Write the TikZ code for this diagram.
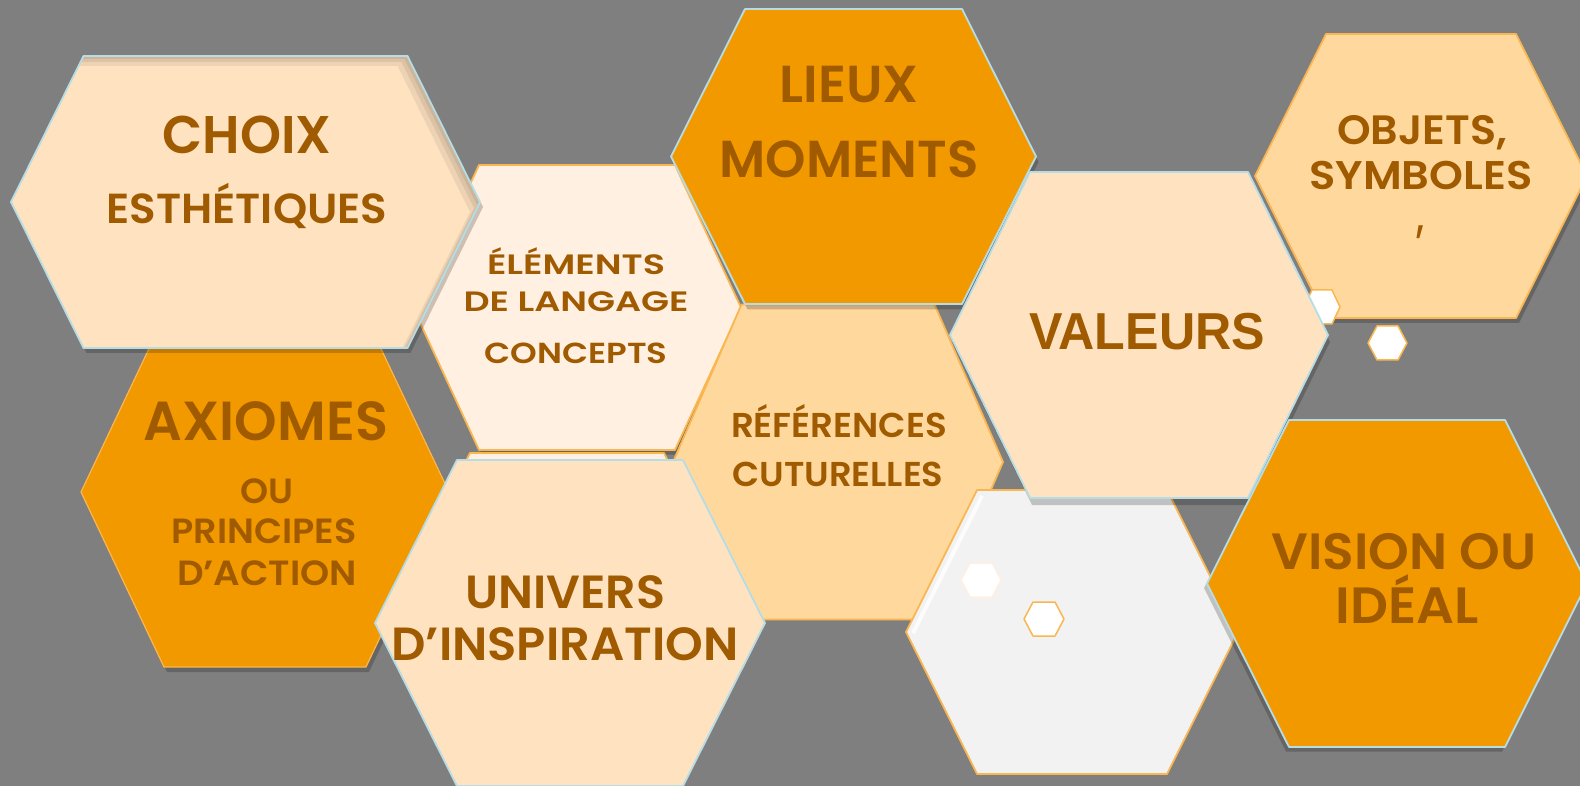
\documentclass[tikz,border=0pt]{standalone}
\usepackage{fontspec}
\usepackage{graphicx}
\newfontfamily\hexfont{Poppins SemiBold}
\newfontfamily\arialf{Liberation Sans}
\definecolor{bgray}{RGB}{127,127,127}
\definecolor{peach}{RGB}{255,227,193}
\definecolor{cream}{RGB}{255,240,225}
\definecolor{deeporange}{RGB}{243,153,0}
\definecolor{lightorange}{RGB}{255,216,158}
\definecolor{paleg}{RGB}{242,242,242}
\definecolor{edgeblue}{RGB}{182,221,230}
\definecolor{edgeorange}{RGB}{250,182,80}
\definecolor{txtbrown}{RGB}{160,90,0}
\tikzset{
  hexblue/.style={draw=edgeblue, line width=1.8pt, line join=round},
  hexorange/.style={draw=edgeorange, line width=1.8pt, line join=round},
  hexshadow/.style={fill=black, fill opacity=0.2},
  innershade/.style={fill=black, fill opacity=0.07, even odd rule},
  txt/.style={text=txtbrown, inner sep=0pt, anchor=base, font=\hexfont},
}
% hexagon path pieces: cx, cy, outer half-width, inner half-width, half-height
\newcommand\hexp[5]{({#1-#3},{#2}) -- ({#1-#4},{#2-#5}) -- ({#1+#4},{#2-#5})
    -- ({#1+#3},{#2}) -- ({#1+#4},{#2+#5}) -- ({#1-#4},{#2+#5}) -- cycle}
% hexagon: cx, cy, outer half-width, inner half-width, half-height, style
\newcommand\hexa[6]{\path[#6] \hexp{#1}{#2}{#3}{#4}{#5};}
% text line: name, x, baseline y, width, size, text
\newcommand\tline[6]{%
  \node[txt] (#1) at (#2,#3) {\resizebox{#4pt}{\height}{\fontsize{#5pt}{#5pt}\selectfont #6}};}
\begin{document}
\begin{tikzpicture}[x=1pt,y=-1pt]
\useasboundingbox (0,0) rectangle (1580,786);
\fill[bgray] (0,0) rectangle (1580,786);
\clip (0,0) rectangle (1580,786);
% tiny hexagon behind LIEUX
\hexa{690}{193}{9}{5}{10}{fill=white, hexorange, line width=1pt}
% AXIOMES
\hexa{268}{497}{184}{101}{175}{hexshadow}
\hexa{265}{492}{184}{101}{175}{fill=deeporange, hexorange, line width=1.2pt}
% ELEMENTS
\hexa{580}{312}{164}{98}{142.5}{hexshadow}
\hexa{577}{307.5}{164}{98}{142.5}{fill=cream, hexorange}
% CHOIX
\hexa{248.5}{207}{234.5}{162}{146}{hexshadow}
\hexa{245.5}{202}{234.5}{162}{146}{fill=peach}
\begin{scope}
  \hexa{245.5}{202}{234.5}{162}{146}{clip}
  \path[innershade] \hexp{245.5}{202}{234.5}{162}{146} \hexp{242.5}{205}{234.5}{162}{146};
  \path[innershade] \hexp{245.5}{202}{234.5}{162}{146} \hexp{239.5}{208}{234.5}{162}{146};
  \path[innershade] \hexp{245.5}{202}{234.5}{162}{146} \hexp{235.5}{212}{234.5}{162}{146};
\end{scope}
\hexa{245.5}{202}{234.5}{162}{146}{hexblue}
% OBJETS
\hexa{1424}{181}{166}{95}{142}{hexshadow}
\hexa{1421}{176}{166}{95}{142}{fill=lightorange, hexorange}
% small hexagons near OBJETS
\hexa{1322}{307}{18}{10}{17}{fill=white, hexorange, line width=1.5pt}
\hexa{1387.5}{343}{19.5}{10.5}{17}{fill=white, hexorange, line width=1.5pt}
% REFERENCES
\hexa{838}{462}{165}{96.5}{157.5}{fill=lightorange, hexorange}
% hexagon behind UNIVERS
\hexa{567}{613}{180}{97}{160}{fill=cream, hexorange}
% UNIVERS
\hexa{570}{623}{195}{113}{163}{fill=peach, hexblue}
% LIEUX
\hexa{856}{162}{182.5}{108.5}{147.5}{hexshadow}
\hexa{853.5}{156.5}{182.5}{108.5}{147.5}{fill=deeporange, hexblue}
% blank pale hexagon
\hexa{1072}{632}{166}{95}{142}{fill=paleg, hexorange}
\draw[white, line width=4pt, opacity=0.8] (982,496) -- (913,633);
\hexa{981}{580}{20}{11}{17}{fill=white, draw=cream, line width=1.5pt}
\hexa{1044}{619}{20}{11}{17}{fill=white, hexorange, line width=1.5pt}
% VALEURS
\hexa{1141}{342}{189}{109}{163}{hexshadow}
\hexa{1139}{335}{189}{109}{163}{fill=peach, hexblue}
% VISION
\hexa{1394}{588}{190}{108}{163.5}{hexshadow}
\hexa{1397}{583.5}{190}{108}{163.5}{fill=deeporange, hexblue}
% texts
\tline{choix}{247}{154}{169}{53}{CHOIX}
\tline{esth}{247}{224}{281}{42}{ESTHÉTIQUES}
\tline{elem}{576}{275}{178}{28}{ÉLÉMENTS}
\tline{lang}{576}{312}{225}{28}{DE LANGAGE}
\tline{conc}{576}{363}{183}{29}{CONCEPTS}
\tline{lieux}{849}{103}{139}{52}{LIEUX}
\tline{mom}{849}{178}{259}{52}{MOMENTS}
\tline{obj}{1422}{145}{170}{41}{OBJETS,}
\tline{sym}{1421}{190}{223}{40}{SYMBOLES}
\tline{comma}{1420}{233}{8}{46}{,}
\node[txt, font=\arialf\bfseries] (val) at (1147,349) {\resizebox{236pt}{\height}{\fontsize{52pt}{52pt}\selectfont VALEURS}};
\tline{axi}{266}{440}{244}{55}{AXIOMES}
\tline{ou}{267}{503}{53}{35}{OU}
\tline{princ}{264}{543}{185}{35}{PRINCIPES}
\tline{dact}{267}{585}{180}{35}{D’ACTION}
\tline{ref}{839}{437}{216}{34.5}{RÉFÉRENCES}
\tline{cult}{838}{486}{211}{34.5}{CUTURELLES}
\tline{univ}{565}{608}{200}{46.5}{UNIVERS}
\tline{insp}{565}{660}{347}{46.5}{D’INSPIRATION}
\tline{vis}{1404}{569}{265}{51}{VISION OU}
\tline{ideal}{1407}{623}{143}{51}{IDÉAL}
\end{tikzpicture}
\end{document}
